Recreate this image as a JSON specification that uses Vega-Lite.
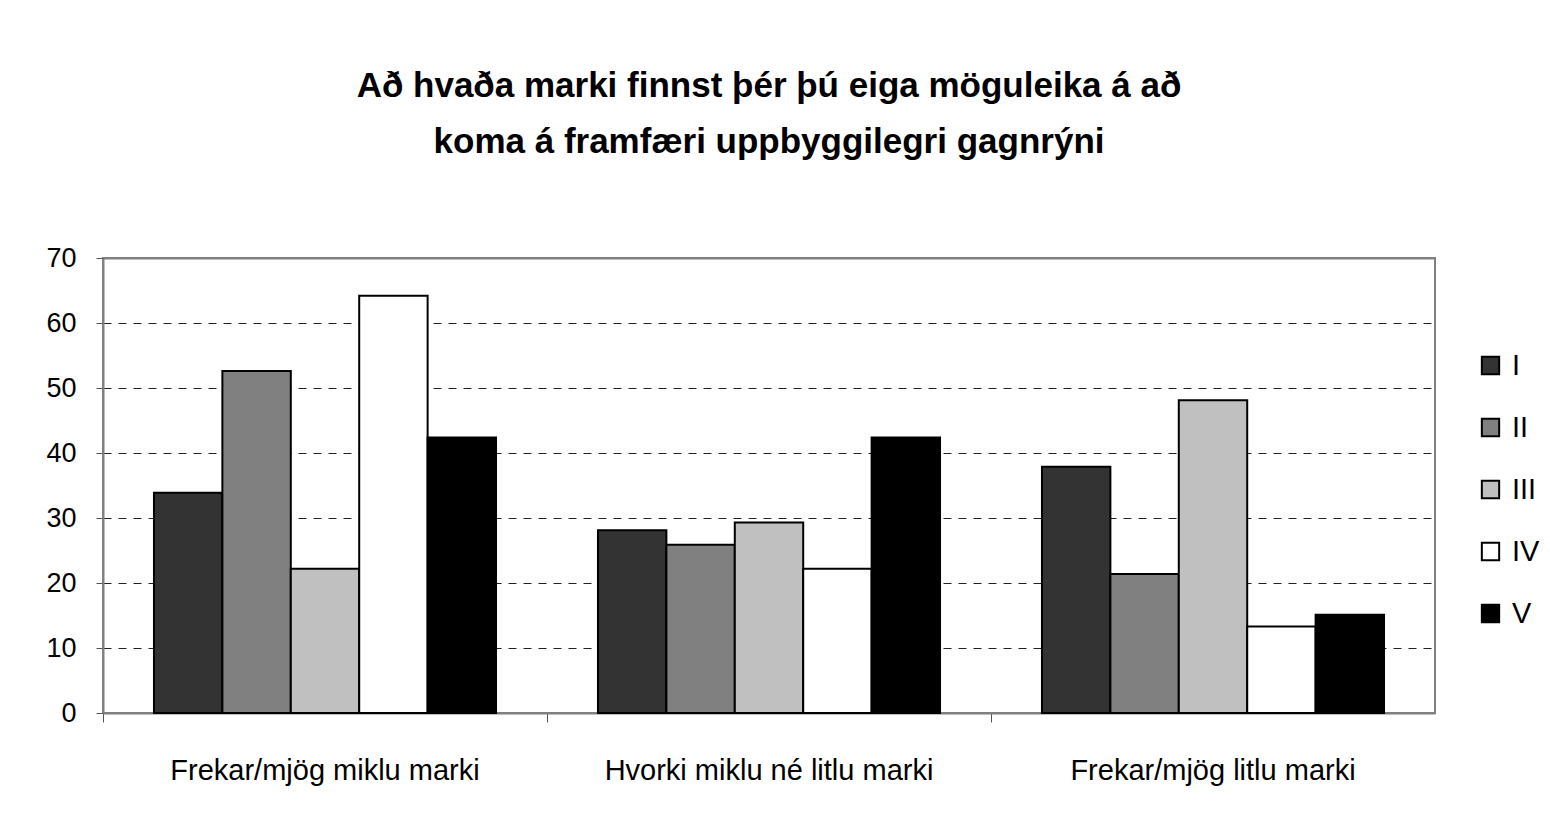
{
  "$schema": "https://vega.github.io/schema/vega-lite/v6.json",
  "width": 1332,
  "height": 455,
  "autosize": "none",
  "padding": {"left": 103, "top": 258, "right": 115, "bottom": 113},
  "background": "white",
  "title": {
    "text": ["Að hvaða marki finnst þér þú eiga möguleika á að", "koma á framfæri uppbyggilegri gagnrýni"],
    "font": "Liberation Sans",
    "fontSize": 35,
    "fontWeight": "bold",
    "lineHeight": 56,
    "color": "black",
    "anchor": "middle",
    "offset": 84
  },
  "data": {
    "values": [
      {"cat": "Frekar/mjög miklu marki", "grp": "I", "value": 33.9},
      {"cat": "Frekar/mjög miklu marki", "grp": "II", "value": 52.6},
      {"cat": "Frekar/mjög miklu marki", "grp": "III", "value": 22.2},
      {"cat": "Frekar/mjög miklu marki", "grp": "IV", "value": 64.2},
      {"cat": "Frekar/mjög miklu marki", "grp": "V", "value": 42.4},
      {"cat": "Hvorki miklu né litlu marki", "grp": "I", "value": 28.1},
      {"cat": "Hvorki miklu né litlu marki", "grp": "II", "value": 25.9},
      {"cat": "Hvorki miklu né litlu marki", "grp": "III", "value": 29.3},
      {"cat": "Hvorki miklu né litlu marki", "grp": "IV", "value": 22.2},
      {"cat": "Hvorki miklu né litlu marki", "grp": "V", "value": 42.4},
      {"cat": "Frekar/mjög litlu marki", "grp": "I", "value": 37.9},
      {"cat": "Frekar/mjög litlu marki", "grp": "II", "value": 21.4},
      {"cat": "Frekar/mjög litlu marki", "grp": "III", "value": 48.1},
      {"cat": "Frekar/mjög litlu marki", "grp": "IV", "value": 13.3},
      {"cat": "Frekar/mjög litlu marki", "grp": "V", "value": 15.1}
    ]
  },
  "mark": {"type": "bar", "stroke": "black", "strokeWidth": 2},
  "encoding": {
    "x": {
      "field": "cat",
      "type": "nominal",
      "sort": null,
      "scale": {"paddingInner": 0, "paddingOuter": 0},
      "axis": {
        "title": null,
        "labelAngle": 0,
        "bandPosition": 0,
        "labelFont": "Liberation Sans",
        "labelFontSize": 29,
        "labelColor": "black",
        "labelPadding": 34,
        "labelLimit": 0,
        "tickSize": 9,
        "tickColor": "#555",
        "domainColor": "#808080",
        "domainWidth": 2,
        "grid": false,
        "labelBound": false
      }
    },
    "xOffset": {
      "field": "grp",
      "type": "nominal",
      "scale": {"paddingInner": 0, "paddingOuter": 0.745}
    },
    "y": {
      "field": "value",
      "type": "quantitative",
      "scale": {"domain": [0, 70], "nice": false},
      "axis": {
        "title": null,
        "values": [0, 10, 20, 30, 40, 50, 60, 70],
        "labelFont": "Liberation Sans",
        "labelFontSize": 27,
        "labelColor": "black",
        "labelPadding": 20,
        "tickSize": 7,
        "tickColor": "#555",
        "domainColor": "#808080",
        "domainWidth": 2,
        "grid": true,
        "gridColor": {"condition": {"test": "datum.value === 70", "value": "#808080"}, "value": "#222"},
        "gridDash": {"condition": {"test": "datum.value === 70", "value": []}, "value": [8, 7]},
        "gridWidth": {"condition": {"test": "datum.value === 70", "value": 2}, "value": 1}
      }
    },
    "fill": {
      "field": "grp",
      "type": "nominal",
      "scale": {"domain": ["I", "II", "III", "IV", "V"], "range": ["#333333", "#808080", "#c0c0c0", "#ffffff", "#000000"]},
      "legend": {
        "title": null,
        "orient": "none",
        "legendX": 1373,
        "legendY": 93,
        "symbolType": "square",
        "symbolSize": 300,
        "symbolStrokeColor": "black",
        "symbolStrokeWidth": 2,
        "labelFont": "Liberation Sans",
        "labelFontSize": 29,
        "labelColor": "black",
        "labelOffset": 7,
        "rowPadding": 32
      }
    }
  },
  "config": {
    "view": {"stroke": "#808080", "strokeWidth": 2}
  }
}
